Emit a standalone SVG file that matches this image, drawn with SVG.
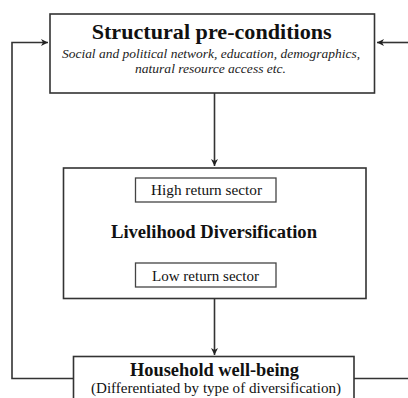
<svg xmlns="http://www.w3.org/2000/svg" width="408" height="398" viewBox="0 0 408 398">
<style>
.box{fill:#fff;stroke:#333;stroke-width:1.6}
.sub{fill:#fff;stroke:#444;stroke-width:1.3}
.line{fill:none;stroke:#333;stroke-width:1.6}
text{font-family:"Liberation Serif","Times New Roman",serif;fill:#111;text-anchor:middle}
.h{font-weight:bold}
.i{font-style:italic;fill:#222}
</style>
<defs>
<marker id="ah" markerWidth="8" markerHeight="8" refX="7" refY="4" orient="auto" markerUnits="userSpaceOnUse">
<path d="M0,0.5 L7,4 L0,7.5 L2,4 Z" fill="#222"/>
</marker>
</defs>
<rect width="408" height="398" fill="#fff"/>
<g id="connectors">
<path class="line" d="M214.5,93 V166" marker-end="url(#ah)"/>
<path class="line" d="M214.5,298.5 V355" marker-end="url(#ah)"/>
<path class="line" d="M73,378.5 H12 V42.5 H48" marker-end="url(#ah)"/>
<path class="line" d="M354,378.5 H408"/>
<path class="line" d="M408,42.5 H377" marker-end="url(#ah)"/>
</g>
<g id="structural">
<rect class="box" x="50" y="14" width="324.5" height="79"/>
<text class="h" x="211.7" y="39" font-size="21" textLength="240" lengthAdjust="spacingAndGlyphs">Structural pre-conditions</text>
<text class="i" x="211" y="57.5" font-size="13.5" textLength="298" lengthAdjust="spacingAndGlyphs">Social and political network, education, demographics,</text>
<text class="i" x="210.5" y="73" font-size="13.5" textLength="151" lengthAdjust="spacingAndGlyphs">natural resource access etc.</text>
</g>
<g id="livelihood">
<rect class="box" x="63.5" y="168" width="302.5" height="130.5"/>
<text class="h" x="214" y="238" font-size="18.5" textLength="206" lengthAdjust="spacingAndGlyphs">Livelihood Diversification</text>
</g>
<g id="high">
<rect class="sub" x="135.5" y="178" width="140.5" height="24"/>
<text x="206.5" y="194.5" font-size="15" textLength="111" lengthAdjust="spacingAndGlyphs">High return sector</text>
</g>
<g id="low">
<rect class="sub" x="135.5" y="263" width="140.5" height="24"/>
<text x="205.5" y="280.5" font-size="15" textLength="107" lengthAdjust="spacingAndGlyphs">Low return sector</text>
</g>
<g id="household">
<rect class="box" x="73.5" y="356.5" width="280.5" height="50"/>
<text class="h" x="214.5" y="375.5" font-size="18" textLength="169" lengthAdjust="spacingAndGlyphs">Household well-being</text>
<text x="216" y="392.5" font-size="15.3" textLength="250" lengthAdjust="spacingAndGlyphs">(Differentiated by type of diversification)</text>
</g>
</svg>
